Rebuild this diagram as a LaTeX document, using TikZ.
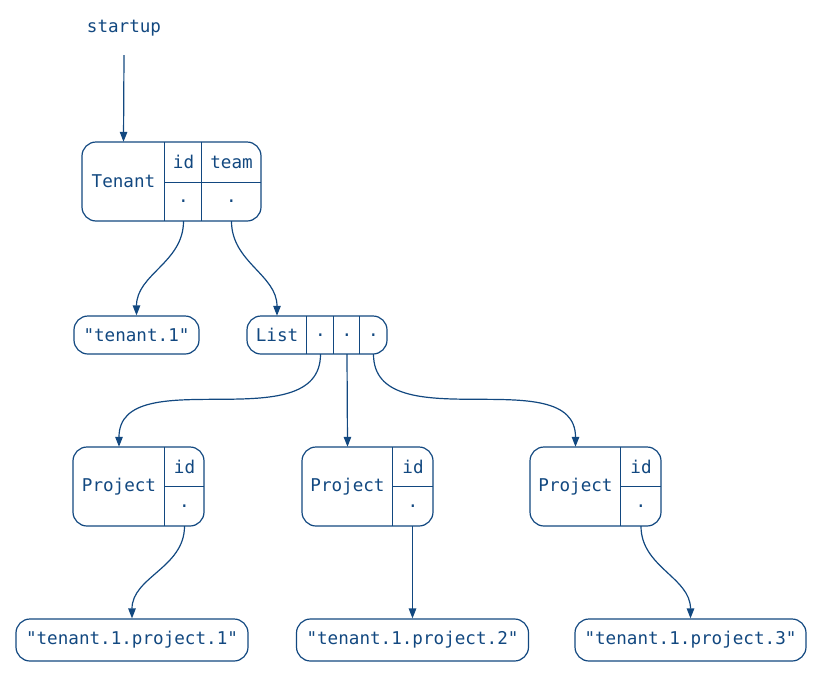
\documentclass[tikz,border=0pt]{standalone}
\usepackage{fontspec}
\setmonofont{DejaVu Sans Mono}
\usepackage{xcolor}
\usepackage{tikz}
\usetikzlibrary{positioning,arrows.meta,calc}
\definecolor{recblue}{RGB}{18,72,128}

\begin{document}
\begin{tikzpicture}[x=1pt, y=-1pt,
    every node/.style={font=\ttfamily\fontsize{17.6}{20}\selectfont, text=recblue, inner sep=0pt},
    rec/.style={draw=recblue, line width=1.2pt, rounded corners=14pt},
    cell/.style={},
    div/.style={draw=recblue, line width=1.2pt},
    arr/.style={draw=recblue, line width=1.2pt, -{Triangle[width=7.5pt,length=10pt]}}]
  \useasboundingbox (0,0) rectangle (824,672);

  % entry point
  \node[minimum height=54pt] (startup) at (124,28) {startup};

  % Tenant record
  \node[rec, minimum width=179pt, minimum height=79pt] (tenant) at (171.5,181.5) {};
  \node[cell, minimum width=83pt, minimum height=79pt] (tenantName) at (123.5,181.5) {Tenant};
  \node[cell, minimum width=37pt, minimum height=40pt] (tenantIdK) at (183.5,162) {id};
  \node[cell, minimum width=37pt, minimum height=39pt] (tenantIdV) at (183.5,201.5) {.};
  \node[cell, minimum width=59pt, minimum height=40pt] (tenantTeamK) at (231.5,162) {team};
  \node[cell, minimum width=59pt, minimum height=39pt] (tenantTeamV) at (231.5,201.5) {.};
  \draw[div] (tenantIdK.north west) -- (tenantIdV.south west);
  \draw[div] (tenantTeamK.north west) -- (tenantTeamV.south west);
  \draw[div] (tenantIdK.south west) -- (tenantTeamK.south east);

  % tenant id and project list
  \node[rec, minimum width=125pt, minimum height=38pt] (tenantStr) at (136.5,335) {"tenant.1"};
  \node[rec, minimum width=140pt, minimum height=38pt] (list) at (317,335) {};
  \node[cell, minimum width=60pt, minimum height=38pt] (listName) at (277,335) {List};
  \node[cell, minimum width=27pt, minimum height=38pt] (listA) at (320.5,335) {.};
  \node[cell, minimum width=26pt, minimum height=38pt] (listB) at (347,335) {.};
  \node[cell, minimum width=27pt, minimum height=38pt] (listC) at (373.5,335) {.};
  \draw[div] (listA.north west) -- (listA.south west);
  \draw[div] (listB.north west) -- (listB.south west);
  \draw[div] (listC.north west) -- (listC.south west);

  % Project records
  \node[rec, minimum width=131pt, minimum height=79pt] (projA) at (138.5,486.5) {};
  \node[cell, minimum width=92pt, minimum height=79pt] (projAName) at (119,486.5) {Project};
  \node[cell, minimum width=39pt, minimum height=39pt] (projAIdK) at (184.5,466.5) {id};
  \node[cell, minimum width=39pt, minimum height=40pt] (projAIdV) at (184.5,506) {.};
  \draw[div] (projAIdK.north west) -- (projAIdV.south west);
  \draw[div] (projAIdK.south west) -- (projAIdK.south east);

  \node[rec, minimum width=131pt, minimum height=79pt] (projB) at (367.5,486.5) {};
  \node[cell, minimum width=91pt, minimum height=79pt] (projBName) at (347.5,486.5) {Project};
  \node[cell, minimum width=40pt, minimum height=39pt] (projBIdK) at (413,466.5) {id};
  \node[cell, minimum width=40pt, minimum height=40pt] (projBIdV) at (413,506) {.};
  \draw[div] (projBIdK.north west) -- (projBIdV.south west);
  \draw[div] (projBIdK.south west) -- (projBIdK.south east);

  \node[rec, minimum width=131pt, minimum height=79pt] (projC) at (595.5,486.5) {};
  \node[cell, minimum width=91pt, minimum height=79pt] (projCName) at (575.5,486.5) {Project};
  \node[cell, minimum width=40pt, minimum height=39pt] (projCIdK) at (641,466.5) {id};
  \node[cell, minimum width=40pt, minimum height=40pt] (projCIdV) at (641,506) {.};
  \draw[div] (projCIdK.north west) -- (projCIdV.south west);
  \draw[div] (projCIdK.south west) -- (projCIdK.south east);

  % project ids
  \node[rec, minimum width=232pt, minimum height=42pt] (projAStr) at (132,640) {"tenant.1.project.1"};
  \node[rec, minimum width=232pt, minimum height=42pt] (projBStr) at (412.5,640) {"tenant.1.project.2"};
  \node[rec, minimum width=231pt, minimum height=42pt] (projCStr) at (690.5,640) {"tenant.1.project.3"};

  % pointers
  \draw[arr] (startup.south) -- (tenantName.north);
  \draw[arr] (tenantIdV.south) to[out=-90, in=90] (tenantStr.north);
  \draw[arr] (tenantTeamV.south) to[out=-90, in=90] (listName.north);
  \draw[arr] (listA.south) to[out=-90, in=90] (projAName.north);
  \draw[arr] (listB.south) -- (projBName.north);
  \draw[arr] (listC.south) to[out=-90, in=90] (projCName.north);
  \draw[arr] (projAIdV.south) to[out=-90, in=90] (projAStr.north);
  \draw[arr] (projBStr.north |- projBIdV.south) -- (projBStr.north);
  \draw[arr] (projCIdV.south) to[out=-90, in=90] (projCStr.north);
\end{tikzpicture}
\end{document}
